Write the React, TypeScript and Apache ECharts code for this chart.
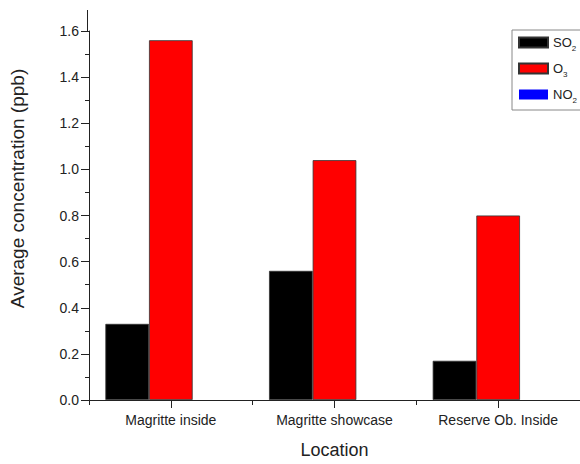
import React, { useEffect, useRef } from "react";
import * as echarts from "echarts";

const categories = ["Magritte inside", "Magritte showcase", "Reserve Ob. Inside"];
const so2 = [0.33, 0.56, 0.17];
const o3 = [1.56, 1.04, 0.8];
const no2 = [0, 0, 0];
const seriesNames = ["SO2", "O3", "NO2"];
const seriesColors = ["#000000", "#ff0000", "#0000ff"];

const FONT = "'Liberation Sans', Arial, sans-serif";
const TXT = "#222";

export default function App() {
  const ref = useRef<HTMLDivElement>(null);
  useEffect(() => {
    if (!ref.current) return;
    const chart = echarts.init(ref.current, undefined, { renderer: "svg" });
    const values = [so2, o3, no2];
    chart.setOption({
      animation: false,
      backgroundColor: "#ffffff",
      textStyle: { fontFamily: FONT },
      grid: { left: 87, top: 31, width: 498, height: 374, containLabel: false },
      legend: {
        orient: "vertical",
        left: 512,
        top: 30,
        padding: [6, 8, 6, 6],
        itemWidth: 29,
        itemHeight: 10,
        itemGap: 10,
        icon: "rect",
        borderColor: "#888",
        borderWidth: 1,
        data: seriesNames,
        formatter: (name: string) => {
          const m = name.match(/^([A-Z]+)(\d)$/);
          return m ? `{n|${m[1]}}{s|${m[2]}}` : name;
        },
        textStyle: {
          color: TXT,
          fontFamily: FONT,
          rich: {
            n: { fontSize: 13, color: TXT, fontFamily: FONT, lineHeight: 18, verticalAlign: "middle" },
            s: { fontSize: 8, color: TXT, fontFamily: FONT, lineHeight: 19, verticalAlign: "bottom" },
          },
        },
      },
      xAxis: [
        {
          type: "category",
          data: categories,
          name: "Location",
          nameLocation: "middle",
          nameGap: 41,
          nameTextStyle: { fontSize: 18, color: TXT, fontFamily: FONT },
          axisLine: { show: true, lineStyle: { color: TXT, width: 1 } },
          axisTick: { show: true, inside: false, length: 5, lineStyle: { color: TXT } },
          axisLabel: { fontSize: 14, color: TXT, margin: 13, fontFamily: FONT },
          splitLine: { show: false },
        },
        {
          type: "category",
          data: categories,
          position: "bottom",
          axisLine: { show: false },
          axisTick: { show: true, alignWithLabel: true, length: 8, lineStyle: { color: TXT } },
          axisLabel: { show: false },
          splitLine: { show: false },
        },
      ],
      yAxis: {
        type: "value",
        min: 0,
        max: 1.6,
        interval: 0.2,
        name: "Average concentration (ppb)",
        nameLocation: "middle",
        nameGap: 62,
        nameTextStyle: { fontSize: 19, color: TXT, fontFamily: FONT, padding: [0, 0, 0, 54] },
        axisLine: { show: true, lineStyle: { color: TXT, width: 1 } },
        axisTick: { show: true, inside: false, length: 8, lineStyle: { color: TXT } },
        minorTick: { show: true, splitNumber: 2, length: 4, lineStyle: { color: TXT } },
        axisLabel: {
          fontSize: 14,
          color: TXT,
          margin: 10,
          fontFamily: FONT,
          formatter: (v: number) => v.toFixed(1),
        },
        splitLine: { show: false },
      },
      graphic: [
        {
          type: "line",
          shape: { x1: 87.5, y1: 10, x2: 87.5, y2: 31 },
          style: { stroke: TXT, lineWidth: 1 },
          silent: true,
        },
      ],
      series: seriesNames.map((n, i) => ({
        name: n,
        type: "bar",
        xAxisIndex: 0,
        data: values[i],
        barGap: "0%",
        barCategoryGap: "20%",
        itemStyle: {
          color: seriesColors[i],
          borderColor: "#333",
          borderWidth: i === 2 ? 0 : 0.8,
        },
      })),
    });
    return () => chart.dispose();
  }, []);
  return (
    <div
      ref={ref}
      style={{ position: "absolute", left: 0, top: 0, width: 580, height: 464, background: "#fff" }}
    />
  );
}
